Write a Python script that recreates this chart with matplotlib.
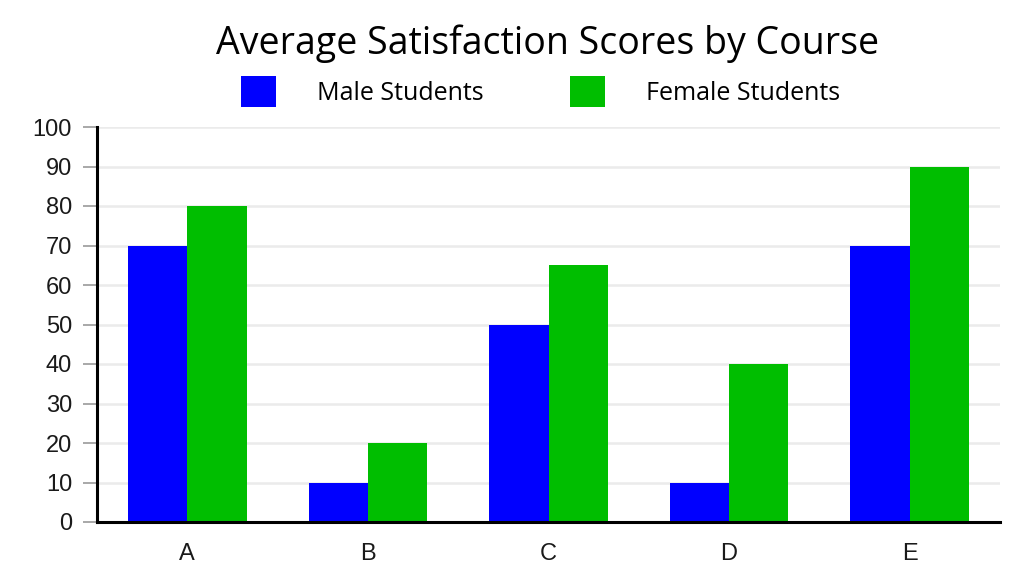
import matplotlib
matplotlib.use("Agg")
import matplotlib.pyplot as plt
import numpy as np

courses = ["A", "B", "C", "D", "E"]
male = [70, 10, 50, 10, 70]
female = [80, 20, 65, 40, 90]
series_labels = ["Male Students", "Female Students"]
yticks = [0, 10, 20, 30, 40, 50, 60, 70, 80, 90, 100]

blue = "#0000FF"
green = "#00BE00"

fig = plt.figure(figsize=(10.24, 5.84), dpi=100)
ax = fig.add_axes([97/1024, 62/584, 903/1024, 395/584])

x = np.arange(len(courses))
w = 0.328
b1 = ax.bar(x - w/2, male, width=w, color=blue, label=series_labels[0], zorder=3)
b2 = ax.bar(x + w/2, female, width=w, color=green, label=series_labels[1], zorder=3)

ax.set_xlim(-0.5, 4.5)
ax.set_ylim(0, 100)
ax.set_yticks(yticks)
ax.set_xticks(x)
ax.set_xticklabels(courses)

for lab in ax.get_yticklabels() + ax.get_xticklabels():
    lab.set_fontfamily(["Liberation Sans", "DejaVu Sans"])
    lab.set_fontsize(17)
    lab.set_color("#1a1a1a")

ax.tick_params(axis="y", length=10, width=1.2, color="#999999", pad=8)
ax.tick_params(axis="x", length=0, pad=15)

ax.yaxis.grid(True, color="#EBEBEB", linewidth=1.8, zorder=0)
ax.set_axisbelow(True)

for s in ["top", "right"]:
    ax.spines[s].set_visible(False)
for s in ["left", "bottom"]:
    ax.spines[s].set_linewidth(2.2)
    ax.spines[s].set_color("black")
    ax.spines[s].set_zorder(4)

fig.text(0.535, 0.926, "Average Satisfaction Scores by Course",
         ha="center", va="center", fontsize=27, family=["Open Sans", "DejaVu Sans"])

fs = 18
fig.legend(handles=[b1, b2], labels=series_labels, loc="center",
           bbox_to_anchor=(0.528, 0.8425), ncol=2, frameon=False,
           prop={"family": ["Open Sans", "DejaVu Sans"], "size": fs},
           handlelength=1.4, handleheight=1.53, handletextpad=1.64,
           columnspacing=3.48, borderpad=0, borderaxespad=0)

fig.savefig("out.png", dpi=100)
